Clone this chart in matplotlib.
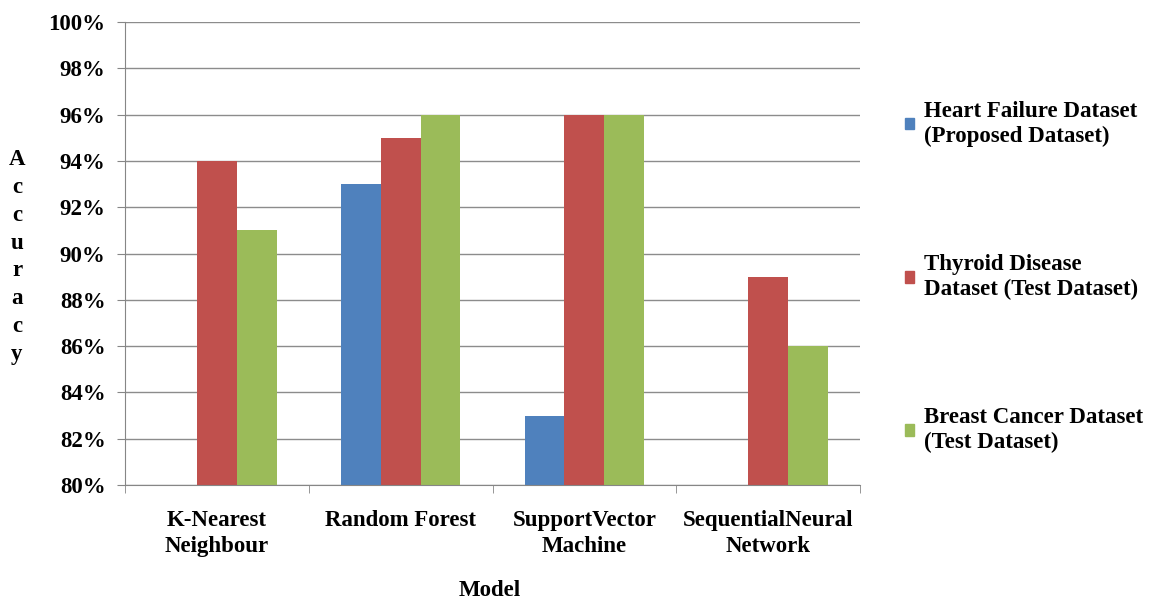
import matplotlib.pyplot as plt
import numpy as np
from matplotlib.patches import Patch

# data (accuracy in %)
models = ['K-Nearest\nNeighbour', 'Random Forest', 'SupportVector\nMachine', 'SequentialNeural\nNetwork']
series_names = ['Heart Failure Dataset\n(Proposed Dataset)',
                'Thyroid Disease\nDataset (Test Dataset)',
                'Breast Cancer Dataset\n(Test Dataset)']
heart_failure = [np.nan, 93, 83, np.nan]
thyroid = [94, 95, 96, 89]
breast_cancer = [91, 96, 96, 86]
y_ticks = [80, 82, 84, 86, 88, 90, 92, 94, 96, 98, 100]

colors = ['#4F81BD', '#C0504D', '#9BBB59']
font = 'Liberation Serif'
fs = 16.5

plt.rcParams['font.family'] = font
plt.rcParams['font.weight'] = 'bold'

fig = plt.figure(figsize=(11.53, 5.99), dpi=100)
ax = fig.add_axes([125 / 1153, 1 - 485 / 599, 735 / 1153, 463 / 599])

x = np.arange(len(models))
w = 0.217
for i, vals in enumerate([heart_failure, thyroid, breast_cancer]):
    ax.bar(x + (i - 1) * w, vals, w, color=colors[i], zorder=2)

ax.set_ylim(80, 100)
ax.set_xlim(-0.5, len(models) - 0.5)
ax.set_yticks(y_ticks)
ax.set_yticklabels([f'{t}%' for t in y_ticks], fontsize=fs, fontweight='bold')
ax.yaxis.grid(True, color='#8c8c8c', linewidth=1, zorder=0)
ax.set_axisbelow(True)

ax.set_xticks(x)
ax.set_xticklabels(models, fontsize=fs, fontweight='bold', linespacing=1.3)
ax.tick_params(axis='x', which='major', length=0, pad=18)
ax.set_xticks(np.arange(-0.5, len(models)), minor=True)
ax.tick_params(axis='x', which='minor', length=6, color='#868686', direction='out')
ax.tick_params(axis='y', length=6, color='#868686', direction='out', pad=8)

for s in ['top', 'right']:
    ax.spines[s].set_visible(False)
for s in ['left', 'bottom']:
    ax.spines[s].set_color('#868686')

fig.text(490 / 1153, 1 - 590 / 599, 'Model', fontsize=fs, fontweight='bold',
         ha='center', va='center')
fig.text(17 / 1153, 1 - 257 / 599, '\n'.join('Accuracy'), fontsize=fs,
         fontweight='bold', ha='center', va='center', linespacing=1.42)

handles = [Patch(color=c) for c in colors]
leg = fig.legend(handles, series_names, loc='center left',
                 bbox_to_anchor=(884 / 1153, 1 - 277 / 599), frameon=False,
                 prop={'family': font, 'weight': 'bold', 'size': fs},
                 handlelength=0.4, handleheight=0.4, handletextpad=0.45,
                 labelspacing=4.7)
for t in leg.get_texts():
    t.set_linespacing(1.2)

fig.savefig('out.png', dpi=100)
